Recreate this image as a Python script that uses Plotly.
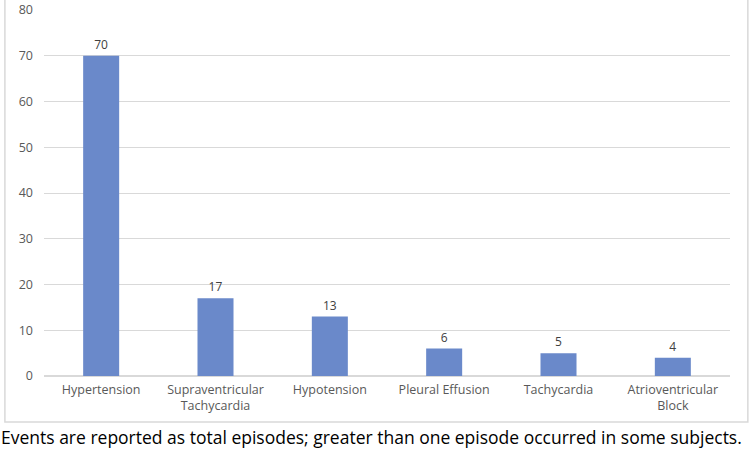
import plotly.graph_objects as go

# adverse events (total episodes)
events = ["Hypertension", "Supraventricular<br>Tachycardia", "Hypotension",
          "Pleural Effusion", "Tachycardia", "Atrioventricular<br>Block"]
counts = [70, 17, 13, 6, 5, 4]
y_ticks = [0, 10, 20, 30, 40, 50, 60, 70, 80]

fig = go.Figure(go.Bar(
    x=events, y=counts,
    marker=dict(color="#6a89ca", line=dict(width=0)),
    text=counts, textposition="outside",
    textfont=dict(size=12, color="#404040", family="Open Sans"),
    cliponaxis=False,
))

fig.update_layout(
    width=754, height=450,
    margin=dict(l=44, r=24, t=10, b=74),
    paper_bgcolor="white", plot_bgcolor="white",
    bargap=0.685,
    showlegend=False,
    font=dict(family="Open Sans", size=12, color="#595959"),
)
fig.update_yaxes(range=[0, 80], tickvals=y_ticks, gridcolor="#d9d9d9",
                 zeroline=True, zerolinecolor="#d9d9d9", showline=False,
                 tickfont=dict(size=12.5, color="#595959"), ticklabelstandoff=10,
                 automargin=False)
fig.update_xaxes(showline=False, tickfont=dict(size=12.5, color="#595959"),
                 automargin=False, ticklabelstandoff=4)

# light frame round the chart area
fig.add_shape(type="rect", xref="paper", yref="paper",
              x0=-0.057, x1=1.026, y0=-0.126, y1=1.05,
              line=dict(color="#d9d9d9", width=1.5), layer="below")

fig.add_annotation(
    text="Events are reported as total episodes; greater than one episode occurred in some subjects.",
    xref="paper", yref="paper", x=0.478, y=-0.167, xanchor="center", yanchor="middle",
    showarrow=False, font=dict(family="Open Sans", size=17.5, color="black"),
)

# drop the page's default body margin so the figure sits at the top-left corner
fig.write_html("out.html", config={"displayModeBar": False},
               post_script="document.body.style.margin='0';")
